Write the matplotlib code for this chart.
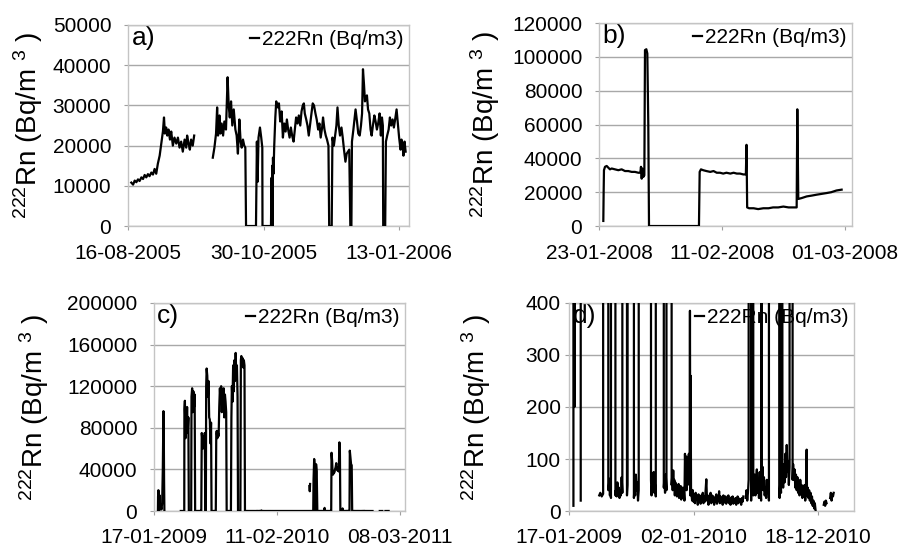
import numpy as np
import matplotlib
matplotlib.use('Agg')
from matplotlib import pyplot as plt
import matplotlib.dates as mdates
from datetime import datetime

plt.rcParams['font.family'] = ['Liberation Sans', 'DejaVu Sans']
plt.rcParams['mathtext.fontset'] = 'custom'
plt.rcParams['mathtext.rm'] = 'Liberation Sans'
plt.rcParams['mathtext.it'] = 'Liberation Sans'

nan = np.nan

# a) days after 16-08-2005
a_start = '16-08-2005'
a_days = [1.8, 2.8, 3.7, 4.6, 5.5, 6.4, 7.4, 8.3, 9.2, 10.1, 11.0, 11.9, 12.9, 13.8, 14.7, 15.6,
          16.5, 17.5, 18.4, 19.3, 19.9, 20.4, 21.1, 21.7, 22.4, 23.2, 23.9, 24.8, 25.7, 26.7, 27.6,
          28.5, 29.4, 30.3, 31.3, 32.2, 32.7, 33.5, 34.2, 34.9, 35.8, 36.6, 40.0,
          46.9, 47.8, 48.7, 49.3, 49.8, 50.6, 51.1, 51.8, 52.6, 53.3, 54.2, 55.1, 55.7, 56.3, 57.0,
          57.7, 58.5, 59.4, 60.1, 60.8, 61.6, 62.3, 62.9, 63.6, 64.3, 64.9, 65.3, 70.8, 71.3, 71.7,
          72.2, 73.0, 73.7, 74.3, 74.4, 79.1, 79.4, 79.6, 79.8, 79.9, 80.2, 80.5, 80.9, 81.5, 82.0,
          82.8, 83.5, 84.2, 85.0, 85.7, 86.4, 87.2, 87.9, 88.6, 89.4, 90.1, 90.8, 91.6, 92.3, 93.0,
          93.8, 94.5, 95.3, 96.0, 96.7, 97.3, 97.8, 98.6, 99.3, 100.0, 100.8, 101.5, 102.2, 102.9,
          103.7, 104.4, 105.2, 105.9, 106.6, 107.4, 107.9, 108.7, 109.4, 110.1, 110.9, 111.3, 112.7,
          113.1, 113.9, 114.6, 115.3, 115.9, 116.6, 117.3, 118.1, 118.8, 119.5, 120.3, 121.0, 121.7,
          122.4, 123.0, 123.6, 123.9, 124.7, 125.4, 125.9, 126.7, 127.4, 128.2, 128.9, 129.5, 130.0,
          130.6, 131.1, 131.7, 132.2, 132.8, 133.5, 134.2, 134.8, 135.5, 136.3, 137.0, 137.7, 138.4,
          139.2, 139.9, 140.5, 141.0, 141.2, 142.3, 142.7, 143.4, 144.2, 144.9, 145.6, 146.4, 147.1,
          147.8, 148.6, 149.3, 150.0, 150.8, 151.3, 151.9, 152.4, 153.0, 153.6]
a_vals = [10800, 10300, 11300, 10900, 11600, 11200, 12100, 11700, 12700, 12100, 12900, 12400, 13300,
          12800, 14200, 13000, 15500, 17500, 20500, 23500, 27000, 23000, 24500, 22500, 24000, 21500,
          23500, 20000, 22000, 20500, 22000, 19500, 21000, 18500, 21500, 19500, 22500, 20500, 19000,
          21500, 20000, 22500, nan,
          17000, 19500, 23000, 29500, 22500, 27500, 23000, 25500, 22500, 26000, 24000, 37000, 30000,
          27000, 31000, 25000, 29000, 24000, 22500, 18000, 26500, 21000, 19500, 21500, 20000, 19500,
          0, 0, 21000, 11000, 22000, 24500, 22000, 19500, 0, 0, 12000, 0, 15000, 0, 17000, 13000,
          20000, 27000, 31000, 29500, 30500, 26000, 28500, 22000, 25500, 23500, 26500, 24000, 22000,
          24500, 22500, 21000, 24000, 27000, 25500, 27500, 25000, 28500, 30000, 30500, 28000, 26500,
          25000, 22500, 25500, 28000, 30500, 30000, 28000, 26500, 24000, 25500, 22000, 24500, 27000,
          24000, 22500, 21500, 20000, 0, 0, 22000, 20000, 22500, 25000, 29500, 25000, 22500, 24500,
          22000, 19000, 16000, 18000, 18500, 19000, 0, 0, 21000, 24000, 27000, 29000, 26000, 23000,
          22500, 25000, 28000, 39000, 35000, 31000, 32000, 32500, 29000, 28000, 24000, 22500, 25000,
          27500, 26000, 24000, 25500, 28000, 22500, 27000, 25000, 0, 0, 21000, 22500, 24000, 27000,
          25000, 26500, 24500, 26500, 29000, 25500, 22000, 19000, 21500, 20000, 17500, 21000, 18500]
a_ticks = ['16-08-2005', '30-10-2005', '13-01-2006']

# b) days after 23-01-2008
b_start = '23-01-2008'
b_days = [0.67, 0.72, 0.77, 0.93, 1.19, 1.44, 1.70, 1.96, 2.47, 2.99, 3.50, 4.02, 4.53, 5.05, 5.56,
          6.08, 6.39, 6.49, 6.60, 6.70, 6.85, 7.01, 7.11, 7.32, 7.47, 7.62, 7.73, 15.45, 15.56, 15.76,
          16.1, 16.6, 17.2, 17.7, 18.2, 18.7, 19.2, 19.7, 20.3, 20.8, 21.3, 21.8, 22.3, 22.7, 22.8,
          22.9, 23.2, 23.9, 24.6, 25.4, 26.2, 26.9, 27.7, 28.5, 29.3, 30.0, 30.55, 30.65, 30.8, 31.3,
          32.1, 32.9, 33.6, 34.4, 35.2, 35.9, 36.7, 37.5]
b_vals = [3000, 20000, 33000, 35000, 35500, 34500, 33500, 34000, 33500, 33000, 33500, 32500, 32500,
          32000, 32000, 31500, 31500, 35000, 28000, 34000, 29000, 30000, 104000, 104500, 102000, 60000,
          0, 0, 32000, 33500, 33000, 32500, 32000, 32500, 31500, 31500, 31000, 31500, 31000, 31500,
          31000, 31000, 30500, 30500, 48000, 11000, 10500, 10500, 10000, 10500, 10500, 11000, 11000,
          11500, 11000, 11000, 11000, 69000, 16000, 16500, 17500, 18000, 18500, 19000, 19500, 20000,
          21000, 21500]
b_ticks = ['23-01-2008', '11-02-2008', '01-03-2008']

# c) and d) same record, days after 17-01-2009
cd_start = '17-01-2009'
cd_days = [12.5, 13.0, 13.5, 14.0, 14.5, 15.0, 15.5, 16.0, 16.5, 17.0, 18.0, 19.0, 20.0, 22.0, 24.0,
           26.0, 28.0, 30.0, 31.0, 32.0, 33.0, 34.0,
           85, 88, 92, 96, 96.5, 98, 100, 101, 103, 105, 107, 109, 110.5, 112, 113.5, 115, 116.5, 118,
           119, 121, 123, 125, 127, 129, 130.5, 132, 134, 136, 138, 140, 142, 144, 146, 148, 150,
           151.5, 153, 155, 157, 159, 161, 163, 164.5, 165.5, 167, 169, 171, 173, 175, 177, 179, 181,
           182.5, 184, 186, 188, 190, 192, 194, 196, 197.5, 199, 201, 203, 205, 207, 209, 211, 213,
           215, 217, 219, 221, 223, 225, 227, 229, 230.5, 232, 234, 236, 238, 240, 242, 244, 245.5,
           247, 249, 251, 253, 255, 257, 259, 261, 263, 265, 266.5, 268, 270, 272, 274, 275.5, 277,
           279, 281, 283, 285, 287, 288.5,
           290, 291.5, 293, 294.5, 296, 297.5, 299, 300.5, 302, 303.5, 305, 306.5, 308, 309.5, 311,
           312.5, 314, 315.5, 317, 318.5, 320, 321.5, 323, 324.5, 326, 327.5, 329, 330.5, 332, 333.5,
           335, 337, 339, 340, 341, 342, 343,
           344, 346, 348, 350, 352, 354, 356, 358, 360, 362, 364, 366, 368, 370, 372, 374, 376, 378,
           380, 382, 384, 386, 388, 390, 392, 394, 396, 398, 400, 402, 404, 406, 408, 410, 412, 414,
           416, 418, 420, 422, 424, 426, 428, 430, 432, 434, 436, 438, 440, 442, 444, 446, 448, 450,
           452, 454, 456, 458, 460, 462, 464, 466, 468, 470, 472, 474, 476, 478, 480, 482, 484, 486,
           488, 490, 491, 493, 494, 495, 496,
           497, 499, 501, 503, 505, 506, 508, 510, 512, 514, 516, 518, 520, 522, 524, 526, 528, 530,
           532, 534, 536, 538, 540, 541, 542, 544, 546, 548, 550, 552, 554, 556, 558, 560, 562,
           563, 565, 566.5, 568, 570, 572, 574, 576, 578, 580, 582, 584, 586, 588, 589.5, 591,
           592, 594, 596, 598, 600, 602, 604, 606, 608, 610, 612, 614, 616, 618, 620,
           621, 623, 625, 627, 628.5, 630, 632, 634, 636, 638, 640, 642, 644, 646, 648, 650, 652, 654,
           656, 658, 660, 662, 664, 666, 668, 669, 671, 673, 675, 677, 679, 681, 683, 685, 687, 689,
           691, 693, 694, 716, 718, 720, 722, 724, 726, 734, 736, 738, 740, 742, 744]
cd_vals = [10, 14000, 6000, 20000, 9000, 18000, 200, 12000, 300, 9000, 15000, 5000, 2000, 3500, 1500,
           8000, 40000, 96000, 80000, 30000, 20, nan,
           30, 35, 28, 33, 98000, 106000, 70000, 95000, 80000, 100000, 75000, 90000, 40, 45, 62, 30,
           50, 25, 110000, 118000, 95000, 115000, 100000, 112000, 30, 40, 28, 55, 35, 45, 25, 40, 30,
           65, 35, 75000, 70000, 60000, 72000, 62000, 75000, 30, 50, 120000, 137000, 130000, 110000,
           125000, 90000, 88000, 65000, 85000, 25, 45, 30, 70, 40, 55, 20, 40, 74000, 77000, 70000,
           75000, 72000, 100000, 118000, 105000, 120000, 95000, 110000, 100000, 118000, 90000, 112000,
           105000, 95000, 60, 30, 55, 40, 75, 35, 50, 28, 90000, 120000, 105000, 140000, 115000,
           145000, 125000, 152000, 130000, 140000, 110000, 45, 60, 35, 70, 40, 145000, 149000, 140000,
           147000, 138000, 145000, 140000, 50,
           65, 40, 78, 45, 60, 30, 55, 35, 50, 28, 45, 32, 52, 25, 40, 30, 48, 22, 38, 28, 45, 25, 35,
           20, 110, 60, 105, 40, 95, 50, 100, 110, 60, 385, 30, 260, 45,
           35, 20, 40, 18, 30, 15, 35, 22, 28, 12, 32, 18, 25, 14, 30, 20, 35, 15, 28, 18, 40, 61, 20,
           30, 12, 25, 18, 35, 15, 30, 20, 28, 12, 24, 18, 32, 14, 26, 20, 38, 15, 28, 18, 25, 12, 30,
           20, 16, 28, 14, 24, 18, 30, 15, 22, 12, 26, 18, 28, 14, 22, 16, 25, 12, 20, 28, 15, 24, 18,
           22, 12, 25, 18, 28, nan, 24000, 19000, 26000, nan,
           25, 40, 20, 35, 60, 30000, 50000, 42000, 20, 45000, 38000, 30, 45, 70, 30, 55, 80, 35, 60,
           25, 75, 40, 20, 3000, 50, 85, 40, 65, 30, 45, 25, 60, 35, 50, 20,
           56000, 48000, 36000, 35000, 38000, 37000, 40000, 42000, 46000, 40000, 39000, 42000, 38000,
           66000, 60000, 40,
           25, 60, 35, 2500, 70, 45, 90, 55, 110, 65, 127, 75, 95, 50, 85,
           58000, 52000, 45000, 44000, 60, 90, 60, 80, 45, 70, 40, 65, 35, 55, 30, 60, 40, 50, 25, 45,
           30, 50, 20, 40, 118, 30, 45, 25, 40, 20, 35, 15, 28, 10, 20, 5, 15, 2, nan, 12, 18, 10,
           20, 15, nan, 25, 35, 20, 32, 28, 35]
c_ticks = ['17-01-2009', '11-02-2010', '08-03-2011']
d_ticks = ['17-01-2009', '02-01-2010', '18-12-2010']


def to_num(s):
    return mdates.date2num(datetime.strptime(s, '%d-%m-%Y'))


fig = plt.figure(figsize=(9.01, 5.47), dpi=100)

panels = [
    # rect, start, days, vals, ticks, xmax(days), ymax, ystep, letter, label x, y tick pad, x tick pad
    ([0.1421, 0.5868, 0.3119, 0.3675], a_start, a_days, a_vals, a_ticks, 155.5, 50000, 10000, 'a)', -0.295, 9, 10),
    ([0.6648, 0.5868, 0.2808, 0.3711], b_start, b_days, b_vals, b_ticks, 39.1, 120000, 20000, 'b)', -0.383, 9, 10),
    ([0.1709, 0.0658, 0.2786, 0.3803], cd_start, cd_days, cd_vals, c_ticks, 796, 200000, 40000, 'c)', -0.41, 9, 9.5),
    ([0.6315, 0.0658, 0.3163, 0.3803], cd_start, cd_days, cd_vals, d_ticks, 801, 400, 100, 'd)', -0.267, 3, 9.5),
]

for rect, start, days, vals, ticks, xmax, ymax, ystep, letter, labx, ypad, xpad in panels:
    ax = fig.add_axes(rect)
    x0 = to_num(start)
    x = x0 + np.array(days, dtype=float)
    ax.plot(x, vals, color='black', lw=1.6, zorder=3, label='222Rn (Bq/m3)')
    ax.set_xlim(x0, x0 + xmax)
    ax.set_ylim(0, ymax)
    ax.set_yticks(np.arange(0, ymax + 1, ystep))
    ax.set_xticks([to_num(t) for t in ticks])
    ax.set_xticklabels(ticks)
    ax.grid(axis='y', color='#a8a8a8', lw=1)
    ax.set_axisbelow(True)
    for sp in ax.spines.values():
        sp.set_color('#c4c4c4')
        sp.set_linewidth(1)
    ax.tick_params(axis='both', labelsize=15, color='#a0a0a0', length=3)
    ax.tick_params(axis='x', pad=xpad)
    ax.tick_params(axis='y', pad=ypad)
    ax.set_ylabel(r'$^{222}$Rn (Bq/m $^{3}$ )', fontsize=20)
    ax.yaxis.set_label_coords(labx, 0.5)
    ax.text(0.012, 0.995, letter, transform=ax.transAxes, fontsize=19, va='top', ha='left', zorder=1)
    leg = ax.legend(loc='upper right', frameon=False, fontsize=15, handlelength=0.45,
                    handletextpad=0.15, borderaxespad=0.15, borderpad=0.1)
    leg.set_zorder(1)

fig.savefig('out.png', dpi=100)
